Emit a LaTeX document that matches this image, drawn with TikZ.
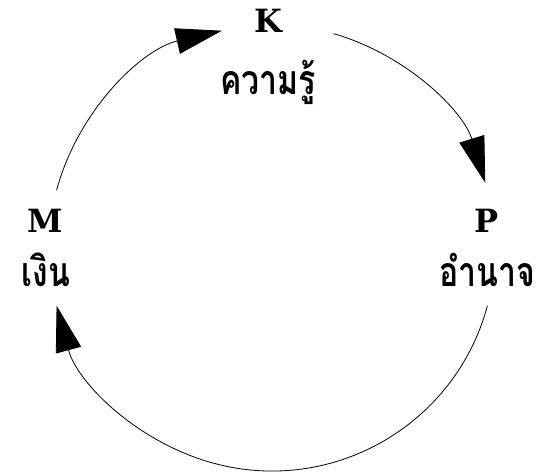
\documentclass[tikz,border=0pt]{standalone}
\usepackage{fontspec}
\newfontfamily\thaifont[Script=Thai]{Loma}
\newfontfamily\slabfont{DejaVu Serif}
\usetikzlibrary{arrows.meta}
\newcommand{\thaitext}[1]{\scalebox{0.78}[1]{#1}}
\tikzset{
  letter/.style={font=\slabfont\bfseries\fontsize{32}{36}\selectfont, anchor=base, inner sep=0pt},
  thai/.style={font=\thaifont\bfseries\fontsize{41}{46}\selectfont, anchor=base, inner sep=0pt},
  arr/.style={line width=0.8pt, -{Triangle[length=46pt, width=26pt]}}
}
\begin{document}
\begin{tikzpicture}[x=1pt, y=1pt]
\useasboundingbox (0,0) rectangle (541,474);
\coordinate (c) at (272,226);
\node[letter] (kL) at (268,441) {K};
\node[thai] (kT) at (268,379) {\thaitext{ความรู้}};
\node[letter] (pL) at (487,241) {P};
\node[thai] (pT) at (487,187) {\thaitext{อำนาจ}};
\node[letter] (mL) at (45,241) {M};
\node[thai] (mT) at (46,187) {\thaitext{เงิน}};
\coordinate (a1) at ([shift={(165:223)}]c);
\coordinate (a2) at ([shift={(74:223)}]c);
\coordinate (a3) at ([shift={(-15:223)}]c);
\draw[arr] (a1) arc[start angle=165, end angle=103, radius=223];
\draw[arr] (a2) arc[start angle=74, end angle=17, radius=223];
\draw[arr] (a3) arc[start angle=-15, end angle=-165, radius=223];
\end{tikzpicture}
\end{document}
